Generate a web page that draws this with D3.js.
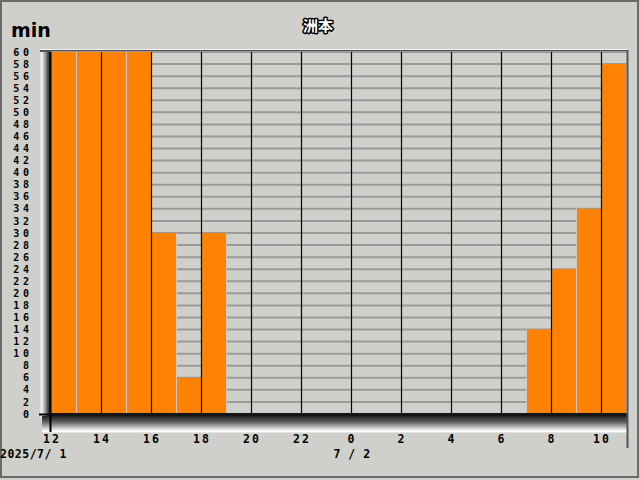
<!DOCTYPE html>
<html><head><meta charset="utf-8">
<script src="https://cdn.jsdelivr.net/npm/d3@7"></script>
<style>html,body{margin:0;padding:0;background:#cfd0cc;}svg{display:block;}</style>
</head><body>
<script>
const title = "洲本";
const unitLabel = "min";
const hours = [12,13,14,15,16,17,18,19,20,21,22,23,0,1,2,3,4,5,6,7,8,9,10];
const values = [60,60,60,60,30,6,30,0,0,0,0,0,0,0,0,0,0,0,0,14,24,34,58];
const yTicks = d3.range(0, 61, 2);
const dateLabels = [{idx:0, text:"2025/7/ 1"}, {idx:12, text:"7 / 2"}];

const W = 640, H = 480;
const L = 51, R = 626, T = 52, B = 414;
const svg = d3.select("body").append("svg").attr("width", W).attr("height", H);

const x = d3.scaleLinear().domain([0, hours.length]).range([L, R]);
const y = d3.scaleLinear().domain([0, 60]).range([B, T]);

svg.append("rect").attr("x",0).attr("y",0).attr("width",W).attr("height",H).attr("fill","#cfd0cc");
svg.append("rect").attr("x",1).attr("y",1).attr("width",W-3).attr("height",H-4)
  .attr("fill","none").attr("stroke","#6a6a6a").attr("stroke-width",2);

const defs = svg.append("defs");
const lg = defs.append("linearGradient").attr("id","lgrad").attr("x1","0").attr("x2","1").attr("y1","0").attr("y2","0");
[[0,"#c8c8c8"],[0.25,"#f4f4f4"],[0.5,"#b0b0b0"],[0.8,"#505050"],[1,"#202020"]].forEach(s=>lg.append("stop").attr("offset",s[0]).attr("stop-color",s[1]));
const bg = defs.append("linearGradient").attr("id","bgrad").attr("x1","0").attr("x2","0").attr("y1","0").attr("y2","1");
[[0,"#202020"],[0.35,"#606060"],[0.75,"#d8d8d8"],[0.9,"#ffffff"],[1,"#d8d8d8"]].forEach(s=>bg.append("stop").attr("offset",s[0]).attr("stop-color",s[1]));

svg.append("line").attr("x1",40).attr("x2",628).attr("y1",49.5).attr("y2",49.5).attr("stroke","#f2f2f2").attr("stroke-width",1);
svg.append("rect").attr("x",40).attr("y",50).attr("width",588).attr("height",2).attr("fill","#505050");
svg.append("rect").attr("x",39).attr("y",52).attr("width",11).attr("height",B-52+4).attr("fill","url(#lgrad)");
svg.append("rect").attr("x",42).attr("y",B+2).attr("width",R-42+1).attr("height",17).attr("fill","url(#bgrad)");

svg.append("rect").attr("x",L).attr("y",T).attr("width",R-L).attr("height",B-T).attr("fill","#cfd0cc");

svg.append("g").selectAll("line").data(yTicks.filter(d=>d>0)).join("line")
  .attr("x1",L).attr("x2",R).attr("y1",d=>y(d)).attr("y2",d=>y(d))
  .attr("stroke","#9a9a9a").attr("stroke-width",2);

svg.append("g").selectAll("rect").data(values).join("rect")
  .attr("x",(d,i)=>x(i)).attr("width",(d,i)=>x(i+1)-x(i))
  .attr("y",d=>y(d)).attr("height",d=>B-y(d))
  .attr("fill","#ff8204");

const idxs = d3.range(1, hours.length);
svg.append("g").selectAll("line").data(idxs.filter(i=>i%2===1 && Math.max(values[i-1],values[i])>0)).join("line")
  .attr("x1",i=>x(i)+0.5).attr("x2",i=>x(i)+0.5)
  .attr("y1",i=>y(Math.max(values[i-1],values[i]))).attr("y2",B)
  .attr("stroke","#c8c8c8").attr("stroke-width",1);
svg.append("g").selectAll("line").data(idxs.filter(i=>i%2===0)).join("line")
  .attr("x1",i=>x(i)+0.5).attr("x2",i=>x(i)+0.5).attr("y1",T).attr("y2",B)
  .attr("stroke","#000").attr("stroke-width",1.2);

svg.append("rect").attr("x",L-1).attr("y",B-1).attr("width",R-L+2).attr("height",3).attr("fill","#151515");
svg.append("line").attr("x1",39).attr("x2",L).attr("y1",B+0.5).attr("y2",B+0.5).attr("stroke","#000").attr("stroke-width",2);
svg.append("line").attr("x1",L-0.5).attr("x2",L-0.5).attr("y1",T).attr("y2",432).attr("stroke","#000").attr("stroke-width",2);
svg.append("line").attr("x1",R+1.5).attr("x2",R+1.5).attr("y1",T-2).attr("y2",448).attr("stroke","#555").attr("stroke-width",2);

const mono = "'DejaVu Sans Mono', 'Liberation Mono', monospace";
svg.append("g").selectAll("text").data(yTicks).join("text")
  .attr("x",33).attr("y",d=>y(d)).attr("dy","0.36em")
  .attr("text-anchor","end").attr("font-family",mono).attr("font-weight","bold")
  .attr("font-size",10).attr("letter-spacing",3.9).attr("fill","#000")
  .text(d=>String(d));

const xt = d3.range(0, hours.length, 2);
svg.append("g").selectAll("text").data(xt).join("text")
  .attr("x",i=>x(i)+1).attr("y",443)
  .attr("text-anchor","middle").attr("font-family",mono).attr("font-weight","bold")
  .attr("font-size",11.5).attr("letter-spacing",2).attr("fill","#000")
  .text(i=>String(hours[i]));

svg.append("g").selectAll("text").data(dateLabels).join("text")
  .attr("x",d=>d.idx===0 ? 0 : x(d.idx)+1).attr("y",458)
  .attr("text-anchor",d=>d.idx===0 ? "start" : "middle")
  .attr("font-family",mono).attr("font-weight","bold")
  .attr("font-size",11.5).attr("letter-spacing",0.5).attr("fill","#000")
  .text(d=>d.text);

svg.append("text").attr("x",11).attr("y",37).attr("font-family","'DejaVu Sans', sans-serif")
  .attr("font-weight","bold").attr("font-size",19).attr("fill","#000").text(unitLabel);

svg.append("text").attr("x",318).attr("y",31).attr("text-anchor","middle")
  .attr("font-family","'Noto Sans CJK JP', sans-serif").attr("font-weight","bold").attr("font-size",15)
  .attr("fill","#fff").attr("stroke","#000").attr("stroke-width",3).attr("paint-order","stroke")
  .attr("stroke-linejoin","round").text(title);
</script>
</body></html>
